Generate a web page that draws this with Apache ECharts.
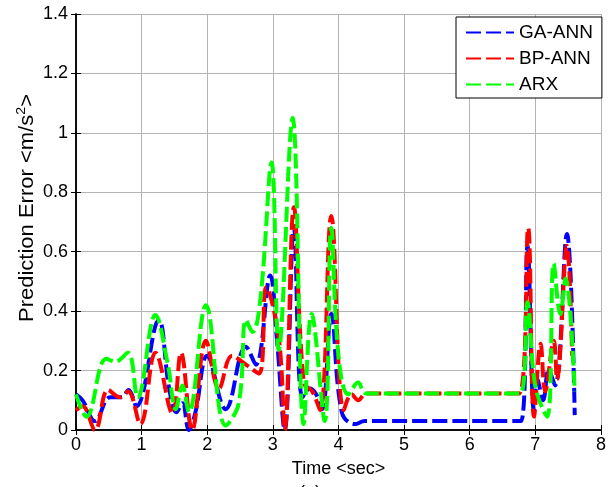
<!DOCTYPE html>
<html>
<head>
<meta charset="utf-8">
<script src="https://cdn.jsdelivr.net/npm/echarts@6/dist/echarts.min.js"></script>
<style>
  html, body { margin: 0; padding: 0; background: #fff; }
  #chart { width: 609px; height: 487px; }
</style>
</head>
<body>
<div id="chart"></div>
<script>
// Prediction error of the three models over time (m/s^2)
const gaTime  = [0, 0.1, 0.29, 0.52, 0.7, 0.8, 0.92, 1.26, 1.42, 1.53, 1.62, 1.72, 1.82, 2.0, 2.28, 2.59, 2.74, 2.96, 3.06, 3.18, 3.32, 3.45, 3.57, 3.66, 3.75, 3.89, 4.05, 4.25, 4.4, 6.78, 6.88, 6.98, 7.03, 7.12, 7.2, 7.3, 7.48, 7.6];
const gaError = [0.12, 0.1, 0.03, 0.11, 0.11, 0.135, 0.08, 0.37, 0.14, 0.06, 0.09, 0.0, 0.06, 0.25, 0.07, 0.28, 0.22, 0.52, 0.31, 0.0, 0.68, 0.11, 0.14, 0.12, 0.07, 0.39, 0.06, 0.02, 0.03, 0.03, 0.62, 0.06, 0.17, 0.1, 0.2, 0.15, 0.66, 0.05];

const bpTime  = [0, 0.1, 0.29, 0.49, 0.67, 0.79, 0.98, 1.21, 1.47, 1.6, 1.77, 1.98, 2.18, 2.38, 2.59, 2.79, 2.9, 3.09, 3.18, 3.32, 3.47, 3.6, 3.72, 3.89, 4.08, 4.2, 4.3, 4.42, 6.75, 6.89, 6.98, 7.08, 7.15, 7.28, 7.33, 7.48, 7.56];
const bpError = [0.067, 0.08, 0.0, 0.135, 0.11, 0.13, 0.02, 0.26, 0.056, 0.26, 0.0, 0.3, 0.14, 0.25, 0.22, 0.19, 0.48, 0.31, 0.0, 0.75, 0.16, 0.13, 0.067, 0.72, 0.067, 0.12, 0.1, 0.123, 0.123, 0.68, 0.045, 0.29, 0.13, 0.30, 0.17, 0.62, 0.25];

const arxTime  = [0, 0.16, 0.46, 0.6, 0.79, 0.94, 1.21, 1.4, 1.52, 1.62, 1.72, 1.98, 2.28, 2.48, 2.59, 2.69, 2.81, 2.98, 3.09, 3.3, 3.47, 3.59, 3.79, 3.89, 4.0, 4.15, 4.3, 4.42, 6.77, 6.88, 7.0, 7.18, 7.28, 7.38, 7.46, 7.6];
const arxError = [0.12, 0.045, 0.24, 0.23, 0.26, 0.11, 0.387, 0.22, 0.07, 0.15, 0.06, 0.42, 0.015, 0.09, 0.37, 0.33, 0.44, 0.90, 0.27, 1.05, 0.02, 0.39, 0.03, 0.68, 0.25, 0.12, 0.16, 0.123, 0.123, 0.43, 0.146, 0.045, 0.56, 0.39, 0.51, 0.13];

const seriesNames = ['GA-ANN', 'BP-ANN', 'ARX'];
const seriesColors = ['#0000ff', '#ff0000', '#00ff00'];

const xMin = 0, xMax = 8, xStep = 1;
const yMin = 0, yMax = 1.4, yStep = 0.2;

const zip = (ts, vs) => ts.map((t, i) => [t, vs[i]]);
const seriesData = [zip(gaTime, gaError), zip(bpTime, bpError), zip(arxTime, arxError)];

const FONT = 'Liberation Sans, Arial, sans-serif';

const chart = echarts.init(document.getElementById('chart'), null, { renderer: 'canvas' });

const boxAxisLine = { show: true, lineStyle: { color: '#000', width: 1.5 } };
const boxTick = { show: true, inside: true, length: 5, lineStyle: { color: '#000', width: 1 } };

chart.setOption({
  animation: false,
  backgroundColor: '#fff',
  grid: { left: 76, right: 5, top: 14, bottom: 57, containLabel: false },
  legend: {
    orient: 'vertical',
    left: 456,
    top: 17,
    data: seriesNames,
    backgroundColor: '#fff',
    borderColor: '#000',
    borderWidth: 1,
    borderRadius: 0,
    padding: [6, 9, 4, 9],
    itemWidth: 48,
    itemHeight: 14,
    itemGap: 7,
    itemStyle: { opacity: 0 },
    textStyle: { fontFamily: FONT, fontSize: 19, color: '#000' }
  },
  xAxis: [{
    type: 'value', min: xMin, max: xMax, interval: xStep,
    position: 'bottom',
    axisLine: boxAxisLine, axisTick: boxTick,
    axisLabel: { fontFamily: FONT, fontSize: 18, color: '#000', margin: 6 },
    splitLine: { show: true, lineStyle: { color: '#b4b4b4', width: 1 } },
    name: 'Time <sec>', nameLocation: 'middle', nameGap: 30,
    nameTextStyle: { fontFamily: FONT, fontSize: 18, color: '#000' }
  }, {
    type: 'value', min: xMin, max: xMax, interval: xStep,
    position: 'top',
    axisLine: boxAxisLine, axisTick: boxTick,
    axisLabel: { show: false }, splitLine: { show: false }
  }],
  yAxis: [{
    type: 'value', min: yMin, max: yMax, interval: yStep,
    position: 'left',
    axisLine: boxAxisLine, axisTick: boxTick,
    axisLabel: { fontFamily: FONT, fontSize: 18, color: '#000', margin: 8 },
    splitLine: { show: true, lineStyle: { color: '#b4b4b4', width: 1 } }
  }, {
    type: 'value', min: yMin, max: yMax, interval: yStep,
    position: 'right',
    axisLine: boxAxisLine, axisTick: boxTick,
    axisLabel: { show: false }, splitLine: { show: false }
  }],
  graphic: [{
    type: 'text',
    x: 27, y: 208,
    rotation: Math.PI / 2,
    scaleX: 1.1,
    style: {
      text: 'Prediction Error <m/s{sup|2}>',
      font: '20px ' + FONT,
      fill: '#000',
      align: 'center',
      verticalAlign: 'middle',
      rich: { sup: { fontSize: 13, fontFamily: FONT, padding: [0, 0, 11, 0] } }
    }
  }, {
    type: 'text',
    x: 310, y: 484,
    style: { text: '(a)', font: '18px ' + FONT, fill: '#000', align: 'center', verticalAlign: 'top' }
  }],
  series: seriesNames.map((name, i) => ({
    name,
    type: 'line',
    data: seriesData[i],
    smooth: 0.4,
    symbol: 'none',
    showSymbol: false,
    clip: true,
    z: 2 + i,
    lineStyle: { color: seriesColors[i], width: 4, type: [15, 5] },
    itemStyle: { color: seriesColors[i] }
  }))
});
</script>
</body>
</html>
